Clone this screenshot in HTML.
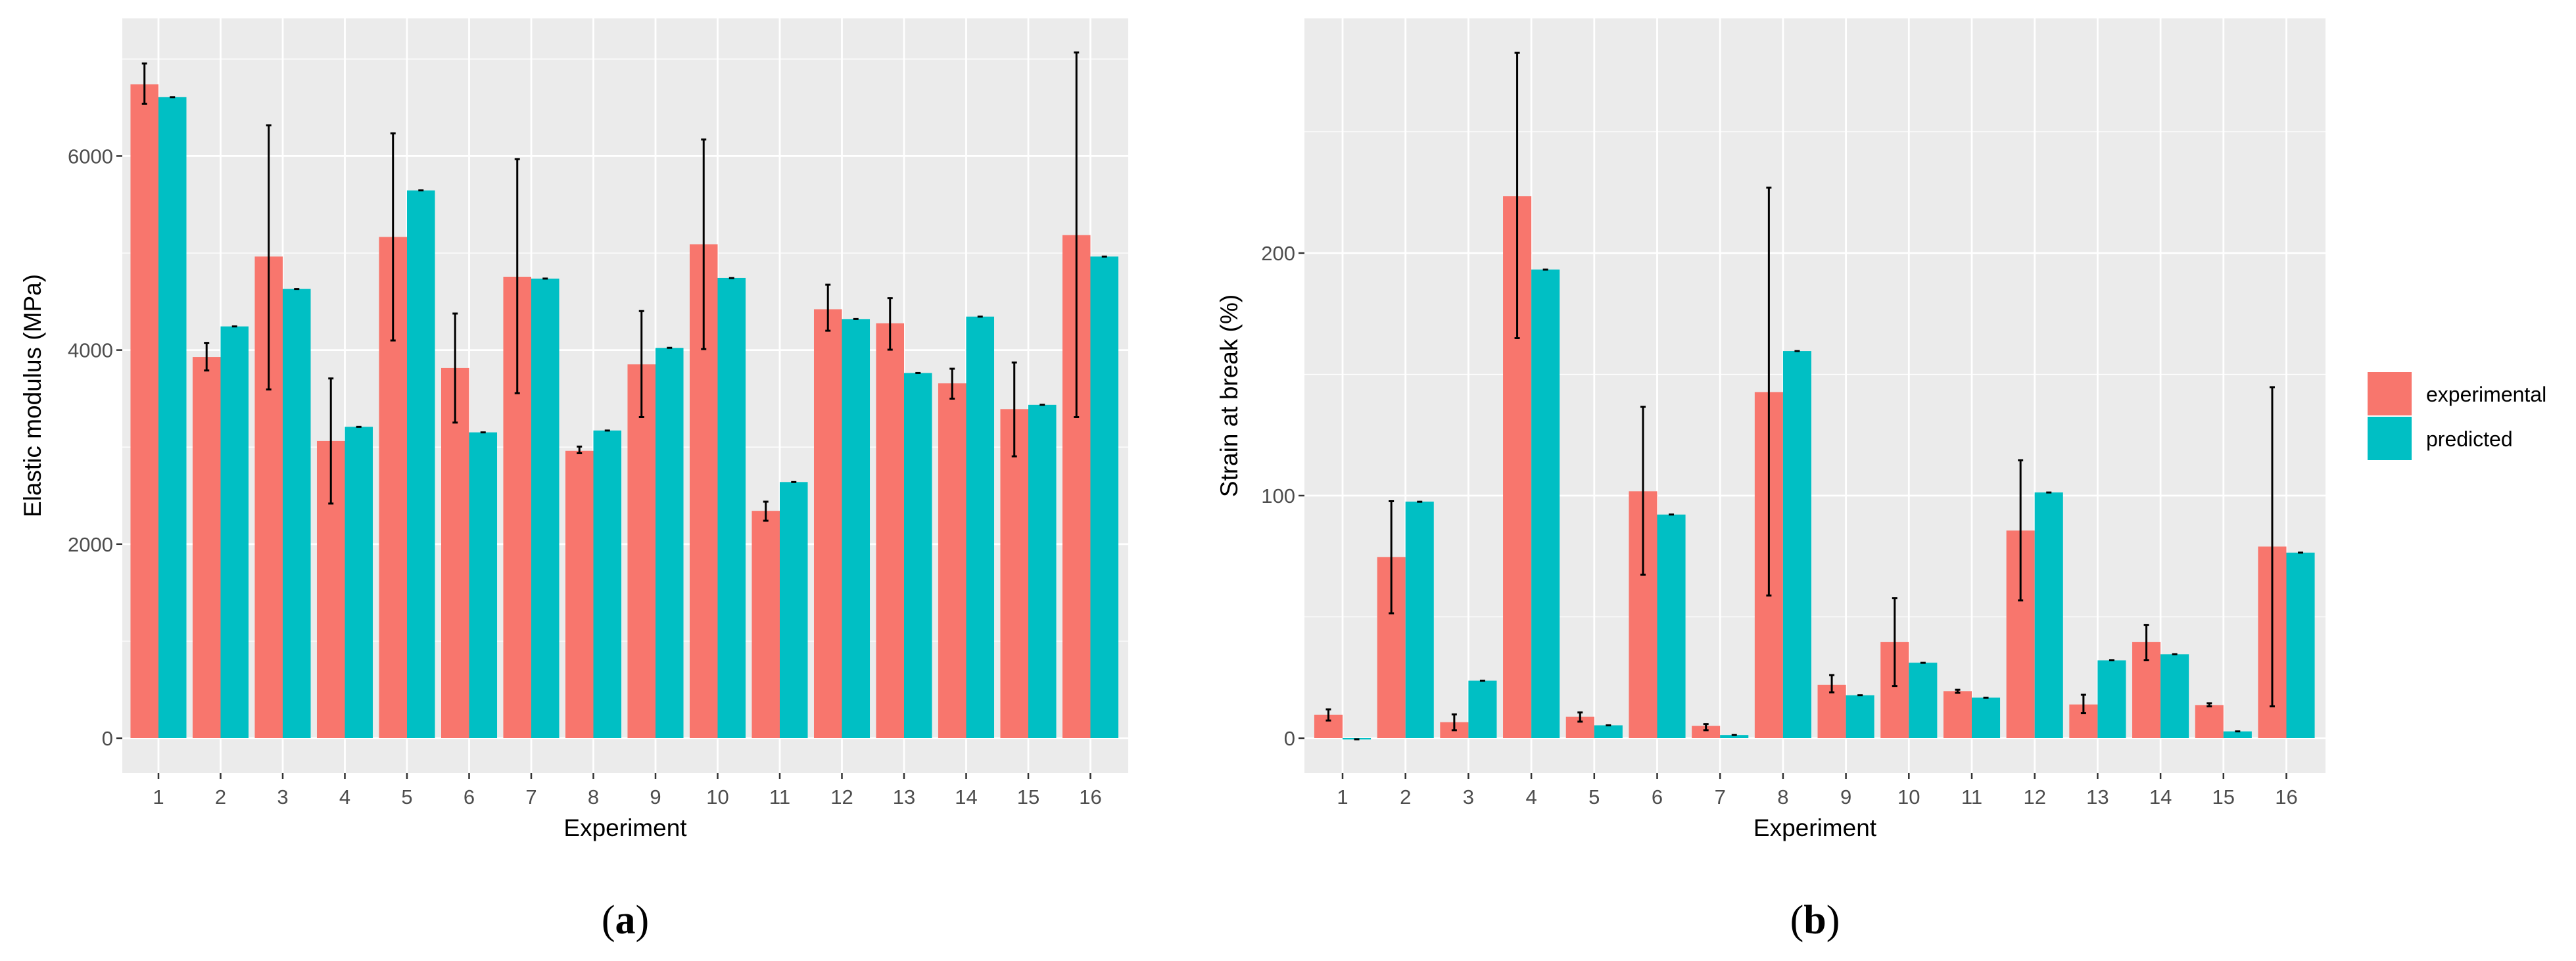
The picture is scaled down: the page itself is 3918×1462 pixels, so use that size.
<!DOCTYPE html>
<html><head><meta charset="utf-8"><style>
html,body{margin:0;padding:0;background:#fff;}
svg{display:block;font-family:"Liberation Sans",sans-serif;}
</style></head><body>
<svg id="fig" width="3918" height="1462" viewBox="0 0 3918 1462"></svg>
<script>
const categories=["1","2","3","4","5","6","7","8","9","10","11","12","13","14","15","16"];
const modExp=[6739,3929,4964,3063,5166,3815,4756,2962,3853,5091,2343,4421,4276,3657,3392,5185];
const modPred=[6607,4244,4630,3209,5646,3152,4737,3171,4023,4743,2640,4320,3764,4345,3436,4964];
const modErrLo=[6537,3790,3594,2419,4099,3253,3556,2937,3310,4011,2242,4200,4004,3499,2905,3310];
const modErrHi=[6954,4074,6316,3708,6234,4377,5969,3006,4402,6171,2438,4674,4535,3808,3872,7067];
const modTicks=[0,2000,4000,6000];
const modMinor=[1000,3000,5000,7000];
const strExp=[9.6,74.7,6.6,223.5,8.8,101.8,5.1,142.7,22,39.6,19.4,85.6,13.9,39.6,13.6,79];
const strPred=[-0.5,97.5,23.7,193.2,5.3,92.2,1.3,159.6,17.7,31.1,16.7,101.3,32.1,34.6,2.8,76.5];
const strErrLo=[7.3,51.5,3.3,164.9,6.8,67.4,3.3,58.8,18.9,21.5,18.7,56.8,10.4,32.1,13.1,13.1];
const strErrHi=[11.9,97.7,9.8,282.6,10.6,136.6,5.8,227,26,57.8,20,114.6,17.9,46.7,14.4,144.7];
const strTicks=[0,100,200];
const strMinor=[50,150,250];

const NS="http://www.w3.org/2000/svg";
const svg=document.getElementById('fig');
function mk(tag,attrs,parent){const e=document.createElementNS(NS,tag);for(const k in attrs)e.setAttribute(k,attrs[k]);(parent||svg).appendChild(e);return e;}

function panel(o){
  const g=mk('g',{});
  
  
  const {x0,x1,y0,y1,zeroY,ppu,step,firstX}=o;
  const yS=v=>zeroY-v*ppu;
  const xS=i=>firstX+i*step;
  const bg=mk('rect',{x:x0,y:y0,width:x1-x0,height:y1-y0,fill:'#EBEBEB'},g);
  
  
  o.minor.forEach(v=>{const l=mk('line',{x1:x0,x2:x1,y1:yS(v),y2:yS(v),stroke:'#fff','stroke-width':1.3},g);
    });
  o.ticks.forEach(v=>{const l=mk('line',{x1:x0,x2:x1,y1:yS(v),y2:yS(v),stroke:'#fff','stroke-width':2.8},g);
    
    const tk=mk('line',{x1:x0-9,x2:x0,y1:yS(v),y2:yS(v),stroke:'#333','stroke-width':2.5},g);
    
    const t=mk('text',{x:x0-14,y:yS(v)+11,'text-anchor':'end','font-size':31,fill:'#4D4D4D'},g);
    t.textContent=v;});
  categories.forEach((c,i)=>{const l=mk('line',{x1:xS(i),x2:xS(i),y1:y0,y2:y1,stroke:'#fff','stroke-width':2.8},g);
    
    const tk=mk('line',{x1:xS(i),x2:xS(i),y1:y1,y2:y1+9,stroke:'#333','stroke-width':2.5},g);
    
    const t=mk('text',{x:xS(i),y:y1+47,'text-anchor':'middle','font-size':31,fill:'#4D4D4D'},g);
    t.textContent=c;});
  const bw=step*0.45;
  categories.forEach((c,i)=>{
    const xe=xS(i)-bw, xp=xS(i);
    const ve=o.exp[i], vp=o.pred[i];
    const re=mk('rect',{x:xe,y:Math.min(yS(ve),yS(0)),width:bw,height:Math.abs(yS(ve)-yS(0)),fill:'#F8766D'},g);
    
    const rp=mk('rect',{x:xp,y:Math.min(yS(vp),yS(0)),width:bw,height:Math.max(1.5,Math.abs(yS(vp)-yS(0))),fill:'#00BFC4'},g);
    
    const cx=xe+bw/2, lo=yS(o.lo[i]), hi=yS(o.hi[i]);
    const eb=mk('path',{d:`M${cx},${lo}V${hi}M${cx-4},${lo}H${cx+4}M${cx-4},${hi}H${cx+4}`,stroke:'#000','stroke-width':3,fill:'none'},g);
    
    const px=xp+bw/2;
    const pe=mk('path',{d:`M${px-4},${yS(vp)}H${px+4}`,stroke:'#000','stroke-width':3},g);
    
  });
  const xt=mk('text',{x:(x0+x1)/2,y:1272,'text-anchor':'middle','font-size':37,fill:'#000'},g);
  xt.textContent='Experiment';
  const yt=mk('text',{x:0,y:0,transform:`translate(${o.ytX},${(y0+y1)/2}) rotate(-90)`,'text-anchor':'middle','font-size':37,fill:'#000'},g);
  yt.textContent=o.yTitle;
  const lab=mk('text',{x:(x0+x1)/2,y:1420,'text-anchor':'middle','font-size':62,'font-family':'Liberation Serif, serif',fill:'#000'},g);
  lab.innerHTML='(<tspan font-weight="bold">'+o.label+'</tspan>)';
  
}
panel({name:'elastic-modulus-chart',x0:186,x1:1716,y0:28,y1:1176,zeroY:1123,ppu:0.1476,step:94.5,firstX:241,
  exp:modExp,pred:modPred,lo:modErrLo,hi:modErrHi,ticks:modTicks,minor:modMinor,yTitle:'Elastic modulus (MPa)',ytX:62,label:'a'});
panel({name:'strain-at-break-chart',x0:1984,x1:3537,y0:28,y1:1176,zeroY:1123,ppu:3.69,step:95.7,firstX:2042,
  exp:strExp,pred:strPred,lo:strErrLo,hi:strErrHi,ticks:strTicks,minor:strMinor,yTitle:'Strain at break (%)',ytX:1882,label:'b'});

const lg=mk('g',{});


[['experimental','#F8766D',566],['predicted','#00BFC4',634]].forEach(([n,c,y])=>{
  const r=mk('rect',{x:3601,y:y,width:67,height:66,fill:c},lg);
  
  const t=mk('text',{x:3690,y:y+45,'font-size':32,fill:'#000'},lg);
  t.textContent=n;
});
</script>
</body></html>
